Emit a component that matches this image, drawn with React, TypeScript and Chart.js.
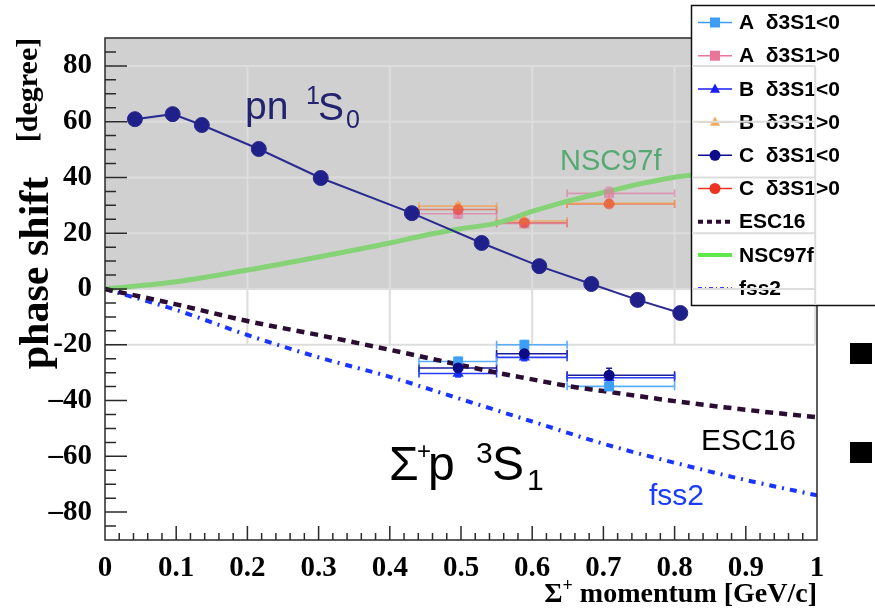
import { useEffect, useRef } from 'react';
import { Chart, registerables } from 'chart.js';

Chart.register(...registerables);

// Σ+ momentum bins (GeV/c) and the mean momentum inside each bin
const binLow = [0.441, 0.55, 0.649];
const binHigh = [0.55, 0.649, 0.8];
const binMean = [0.496, 0.589, 0.708];

// Σ+p 3S1 phase shifts (degree) for analyses A, B, C and both signs of δ3S1
const phaseANeg = [-26.0, -20.0, -34.9];
const phaseAPos = [27.0, 23.5, 34.3];
const phaseBNeg = [-30.3, -24.5, -31.8];
const phaseBPos = [29.7, 24.4, 30.7];
const phaseCNeg = [-28.3, -23.2, -30.9];
const phaseCPos = [28.5, 23.7, 30.5];

const errANeg = [1.5, 1.5, 1.5];
const errAPos = [1.5, 1.0, 2.2];
const errBNeg = [1.2, 1.2, 1.2];
const errBPos = [1.0, 1.0, 1.0];
const errCNeg = [1.5, 1.5, 2.5];
const errCPos = [1.0, 1.0, 1.0];

// pn 1S0 phase shifts
const pnMomentum = [0.042, 0.095, 0.136, 0.216, 0.303, 0.431, 0.529, 0.61, 0.683, 0.748, 0.808];
const pnPhase = [60.9, 62.7, 58.8, 50.2, 39.8, 27.2, 16.5, 8.2, 1.8, -3.9, -8.6];

// Theory curves
const escMomentum = [0, 0.1, 0.2, 0.3, 0.4, 0.5, 0.55, 0.6, 0.65, 0.7, 0.8, 0.9, 1.0];
const escPhase = [0, -5.5, -11.5, -16.5, -21.8, -27.3, -30.0, -32.4, -34.8, -36.6, -40.2, -43.3, -46.0];
const fssMomentum = [0, 0.1, 0.2, 0.3, 0.4, 0.5, 0.6, 0.7, 0.8, 0.9, 1.0];
const fssPhase = [0, -7.5, -16.5, -24.5, -31.5, -39.5, -47.5, -55.5, -62.3, -68.5, -74.0];
const nscMomentum = [0, 0.1, 0.2, 0.3, 0.4, 0.45, 0.5, 0.55, 0.6, 0.65, 0.7, 0.75, 0.8, 0.85, 0.9, 1.0];
const nscPhase = [0, 2.6, 6.8, 11.5, 16.5, 19.3, 21.6, 23.6, 27.8, 31.5, 34.6, 37.6, 40.1, 41.3, 42.5, 44.0];

// Axis ticks
const xTicks = [0, 0.1, 0.2, 0.3, 0.4, 0.5, 0.6, 0.7, 0.8, 0.9, 1];
const yTicks = [-80, -60, -40, -20, 0, 20, 40, 60, 80];
const gridX = [0.2, 0.4, 0.6, 0.8];
const gridY = [80, 60, 40, 20, 0, -20];

const SERIF = "'Liberation Serif', 'Times New Roman', serif";
const SANS = "'Liberation Sans', Arial, Helvetica, sans-serif";

type ErrPoint = { x: number; y: number; xMin: number; xMax: number; yErr: number };

function binned(phase: number[], err: number[]): ErrPoint[] {
  return binMean.map((m, i) => ({ x: m, y: phase[i], xMin: binLow[i], xMax: binHigh[i], yErr: err[i] }));
}

function xy(xs: number[], ys: number[]) {
  return xs.map((x, i) => ({ x, y: ys[i] }));
}

function measured(
  label: string,
  data: ErrPoint[],
  fill: string,
  bar: string,
  legendColor: string,
  style: string,
  radius: number,
  rank: number
) {
  return {
    label,
    data,
    showLine: false,
    pointStyle: style,
    pointRadius: radius,
    pointBackgroundColor: fill,
    pointBorderColor: fill,
    pointBorderWidth: 0,
    errorBars: true,
    barColor: bar,
    legendColor,
    legendStyle: style,
    legendRank: rank,
  };
}

function drawMarker(ctx: CanvasRenderingContext2D, style: string, x: number, y: number, r: number) {
  ctx.beginPath();
  if (style === 'rect') {
    ctx.rect(x - r, y - r, 2 * r, 2 * r);
  } else if (style === 'triangle') {
    ctx.moveTo(x, y - r * 1.1);
    ctx.lineTo(x + r, y + r * 0.75);
    ctx.lineTo(x - r, y + r * 0.75);
    ctx.closePath();
  } else {
    ctx.arc(x, y, r, 0, Math.PI * 2);
  }
  ctx.fill();
}

type Part = { t: string; x: number; y: number; size: number };

function drawParts(ctx: CanvasRenderingContext2D, parts: Part[], color: string, family: string, weight = 'normal') {
  ctx.fillStyle = color;
  ctx.textAlign = 'left';
  ctx.textBaseline = 'alphabetic';
  for (const p of parts) {
    ctx.font = `${weight} ${p.size}px ${family}`;
    ctx.fillText(p.t, p.x, p.y);
  }
}

function drawGrid(ctx: CanvasRenderingContext2D, xs: any, ys: any) {
  const xL = xs.getPixelForValue(0);
  const xR = xs.getPixelForValue(0.9975);
  const yT = ys.getPixelForValue(80);
  const yB = ys.getPixelForValue(-20);
  ctx.save();
  ctx.strokeStyle = '#dddddd';
  ctx.lineWidth = 2;
  ctx.beginPath();
  for (const v of gridY) {
    const py = ys.getPixelForValue(v);
    ctx.moveTo(xL, py);
    ctx.lineTo(xR, py);
  }
  for (const v of [...gridX, 0.9975]) {
    const px = xs.getPixelForValue(v);
    ctx.moveTo(px, yT);
    ctx.lineTo(px, yB);
  }
  ctx.stroke();
  ctx.restore();
}

const framePlugin = {
  id: 'phaseFrame',
  beforeDraw(chart: any) {
    const { ctx, chartArea } = chart;
    const ys = chart.scales.y;
    ctx.save();
    ctx.fillStyle = '#ffffff';
    ctx.fillRect(0, 0, chart.width, chart.height);
    // shaded pn region
    ctx.fillStyle = '#d0d0d0';
    const y0 = ys.getPixelForValue(0);
    ctx.fillRect(chartArea.left, chartArea.top, chartArea.right - chartArea.left, y0 - chartArea.top);
    ctx.restore();
  },
  beforeDatasetsDraw(chart: any) {
    const { ctx } = chart;
    const xs = chart.scales.x;
    const ys = chart.scales.y;
    drawGrid(ctx, xs, ys);
    // error bars
    ctx.save();
    chart.data.datasets.forEach((ds: any, i: number) => {
      if (!ds.errorBars) return;
      const meta = chart.getDatasetMeta(i);
      if (meta.hidden) return;
      ctx.strokeStyle = ds.barColor;
      ctx.lineWidth = 1.6;
      (ds.data as ErrPoint[]).forEach((p) => {
        const px = xs.getPixelForValue(p.x);
        const py = ys.getPixelForValue(p.y);
        const x1 = xs.getPixelForValue(p.xMin);
        const x2 = xs.getPixelForValue(p.xMax);
        const yTop = ys.getPixelForValue(p.y + p.yErr);
        const yBot = ys.getPixelForValue(p.y - p.yErr);
        ctx.beginPath();
        ctx.moveTo(x1, py);
        ctx.lineTo(x2, py);
        ctx.moveTo(x1, py - 4);
        ctx.lineTo(x1, py + 4);
        ctx.moveTo(x2, py - 4);
        ctx.lineTo(x2, py + 4);
        ctx.moveTo(px, yTop);
        ctx.lineTo(px, yBot);
        ctx.moveTo(px - 3, yTop);
        ctx.lineTo(px + 3, yTop);
        ctx.moveTo(px - 3, yBot);
        ctx.lineTo(px + 3, yBot);
        ctx.stroke();
      });
    });
    ctx.restore();
  },
  afterDraw(chart: any) {
    const { ctx, chartArea } = chart;
    const xs = chart.scales.x;
    const ys = chart.scales.y;
    const { left, right, top, bottom } = chartArea;
    ctx.save();

    // frame and inward ticks
    ctx.strokeStyle = '#2a2a2a';
    ctx.lineWidth = 1.5;
    ctx.strokeRect(left, top, right - left, bottom - top);
    ctx.beginPath();
    for (let k = -17; k <= 17; k++) {
      const v = k * 5;
      const py = ys.getPixelForValue(v);
      const len = v % 20 === 0 ? 22 : 11;
      ctx.moveTo(left, py);
      ctx.lineTo(left + len, py);
    }
    for (let k = 1; k < 50; k++) {
      const px = xs.getPixelForValue(k / 50);
      const len = k % 5 === 0 ? 14 : 7;
      ctx.moveTo(px, bottom);
      ctx.lineTo(px, bottom - len);
    }
    ctx.stroke();

    // axis titles
    ctx.fillStyle = '#000';
    ctx.textBaseline = 'alphabetic';
    ctx.textAlign = 'center';
    ctx.save();
    ctx.translate(48, 273);
    ctx.rotate(-Math.PI / 2);
    ctx.font = `bold 42px ${SERIF}`;
    ctx.fillText('phase shift', 0, 0);
    ctx.restore();
    ctx.save();
    ctx.translate(37, 90);
    ctx.rotate(-Math.PI / 2);
    ctx.font = `bold 30px ${SERIF}`;
    ctx.fillText('[degree]', 0, 0);
    ctx.restore();

    // x title, right aligned to the frame
    ctx.textAlign = 'left';
    ctx.font = `bold 28px ${SERIF}`;
    const wSigma = ctx.measureText('Σ').width;
    const rest = ' momentum [GeV/c]';
    const wRest = ctx.measureText(rest).width;
    ctx.font = `bold 18px ${SERIF}`;
    const wPlus = ctx.measureText('+').width;
    let tx = right - (wSigma + wPlus + wRest);
    ctx.font = `bold 28px ${SERIF}`;
    ctx.fillText('Σ', tx, 602);
    tx += wSigma;
    ctx.font = `bold 18px ${SERIF}`;
    ctx.fillText('+', tx, 591);
    tx += wPlus;
    ctx.font = `bold 28px ${SERIF}`;
    ctx.fillText(rest, tx, 602);

    // annotations
    drawParts(
      ctx,
      [
        { t: 'pn', x: 245, y: 119, size: 39 },
        { t: '1', x: 306, y: 104, size: 25 },
        { t: 'S', x: 318, y: 120, size: 39 },
        { t: '0', x: 346, y: 128, size: 25 },
      ],
      '#22226e',
      SANS
    );
    drawParts(
      ctx,
      [
        { t: 'Σ', x: 389, y: 480, size: 48 },
        { t: '+', x: 417, y: 459, size: 24 },
        { t: 'p', x: 428, y: 480, size: 48 },
        { t: '3', x: 476, y: 463, size: 30 },
        { t: 'S', x: 492, y: 480, size: 48 },
        { t: '1', x: 527, y: 490, size: 30 },
      ],
      '#000000',
      SANS
    );
    drawParts(ctx, [{ t: 'NSC97f', x: 560, y: 170, size: 29 }], '#55aa73', SANS);
    drawParts(ctx, [{ t: 'ESC16', x: 701, y: 450, size: 30 }], '#000000', SANS);
    drawParts(ctx, [{ t: 'fss2', x: 649, y: 505, size: 30 }], '#1a3cff', SANS);

    // legend
    const L = { x: 691, y: 5, w: 200, h: 301, row0: 22.5, step: 33.2 };
    ctx.fillStyle = '#ffffff';
    ctx.fillRect(L.x, L.y, L.w, L.h);
    ctx.strokeStyle = '#111';
    ctx.lineWidth = 1.5;
    ctx.strokeRect(L.x + 0.5, L.y + 0.5, L.w, L.h - 1);
    const entries = chart.data.datasets
      .filter((d: any) => d.legendRank !== undefined)
      .sort((a: any, b: any) => a.legendRank - b.legendRank);
    entries.forEach((d: any, i: number) => {
      const ry = L.y + L.row0 - 5 + i * L.step;
      ctx.save();
      ctx.strokeStyle = d.legendColor;
      ctx.lineWidth = d.legendWidth || 1.5;
      ctx.setLineDash(d.legendDash || []);
      ctx.beginPath();
      ctx.moveTo(698, ry);
      ctx.lineTo(732, ry);
      ctx.stroke();
      ctx.restore();
      if (d.legendStyle) {
        ctx.fillStyle = d.legendColor;
        drawMarker(ctx, d.legendStyle, 715, ry, d.legendStyle === 'circle' ? 5.5 : 5);
      }
      ctx.fillStyle = '#000';
      ctx.font = `bold 21px ${SANS}`;
      ctx.textAlign = 'left';
      ctx.textBaseline = 'middle';
      ctx.fillText(d.label, 739, ry + 1);
    });
    // pn grid shows through the legend box
    ctx.save();
    ctx.beginPath();
    ctx.rect(L.x + 1, L.y + 1, L.w, L.h - 2);
    ctx.clip();
    drawGrid(ctx, xs, ys);
    ctx.restore();

    // bullets
    ctx.fillStyle = '#000';
    ctx.fillRect(850, 343, 22, 21);
    ctx.fillRect(850, 442, 22, 21);
    ctx.restore();
  },
};

export default function App() {
  const ref = useRef<HTMLCanvasElement | null>(null);

  useEffect(() => {
    if (!ref.current) return;
    const datasets: any[] = [
      measured('C  δ3S1<0', binned(phaseCNeg, errCNeg), '#0c0c86', '#1c1c9a', '#0c0c8c', 'circle', 5.5, 4),
      measured('C  δ3S1>0', binned(phaseCPos, errCPos), 'rgba(232,60,40,0.55)', 'rgba(232,70,40,0.6)', '#ee3322', 'circle', 5.5, 5),
      measured('B  δ3S1<0', binned(phaseBNeg, errBNeg), '#1530ff', '#2a3cff', '#1b1bff', 'triangle', 6.5, 2),
      measured('B  δ3S1>0', binned(phaseBPos, errBPos), 'rgba(246,160,80,0.75)', 'rgba(240,160,80,0.75)', '#f6a95e', 'triangle', 6.5, 3),
      measured('A  δ3S1<0', binned(phaseANeg, errANeg), '#3d9ff5', '#5aaef8', '#3b9df5', 'rect', 7, 0),
      measured('A  δ3S1>0', binned(phaseAPos, errAPos), 'rgba(225,120,160,0.65)', 'rgba(225,120,160,0.65)', '#ea7598', 'rect', 7, 1),
      {
        label: 'pn 1S0',
        data: xy(pnMomentum, pnPhase),
        showLine: true,
        borderColor: '#2a2a90',
        borderWidth: 2,
        pointRadius: 7.5,
        pointBackgroundColor: '#20208a',
        pointBorderColor: '#2a2a8e',
        pointBorderWidth: 1,
      },
      {
        label: 'ESC16',
        data: xy(escMomentum, escPhase),
        showLine: true,
        pointRadius: 0,
        borderColor: '#2b0d33',
        borderWidth: 4.5,
        borderDash: [8, 6],
        cubicInterpolationMode: 'monotone',
        legendColor: '#2b0d33',
        legendWidth: 4,
        legendDash: [5, 4],
        legendRank: 6,
      },
      {
        label: 'fss2',
        data: xy(fssMomentum, fssPhase),
        showLine: true,
        pointRadius: 0,
        borderColor: '#1a35ff',
        borderWidth: 4,
        borderDash: [7, 6, 2, 6],
        cubicInterpolationMode: 'monotone',
        legendColor: '#3c3cff',
        legendWidth: 2,
        legendDash: [4, 3, 1, 3],
        legendRank: 8,
      },
      {
        label: 'NSC97f',
        data: xy(nscMomentum, nscPhase),
        showLine: true,
        pointRadius: 0,
        borderColor: '#86d277',
        borderWidth: 5,
        cubicInterpolationMode: 'monotone',
        legendColor: '#5ee84a',
        legendWidth: 4,
        legendRank: 7,
      },
    ];

    const tickFont = { family: SERIF, size: 29, weight: 'bold' };

    const chart = new Chart(ref.current, {
      type: 'scatter',
      data: { datasets },
      plugins: [framePlugin],
      options: {
        responsive: false,
        animation: false,
        devicePixelRatio: 1,
        layout: { padding: { top: 38, right: 58, left: 0, bottom: 0 } },
        plugins: { legend: { display: false }, tooltip: { enabled: false } },
        scales: {
          x: {
            type: 'linear',
            min: 0,
            max: 1,
            grid: { display: false },
            border: { display: false },
            afterBuildTicks: (s: any) => {
              s.ticks = xTicks.map((v) => ({ value: v }));
            },
            afterFit: (s: any) => {
              s.height = 68;
            },
            ticks: {
              autoSkip: false,
              maxRotation: 0,
              padding: 3,
              color: '#000',
              font: tickFont,
              callback: (v: any) => (v === 0 ? '0' : v === 1 ? '1' : Number(v).toFixed(1)),
            },
          },
          y: {
            type: 'linear',
            min: -90,
            max: 90,
            grid: { display: false },
            border: { display: false },
            afterBuildTicks: (s: any) => {
              s.ticks = yTicks.map((v) => ({ value: v }));
            },
            afterFit: (s: any) => {
              s.width = 105;
            },
            ticks: {
              autoSkip: false,
              padding: 5,
              color: '#000',
              font: tickFont,
              callback: (v: any) => (v === -20 ? '-20' : v < 0 ? '\u2013' + Math.abs(v) : String(v)),
            },
          },
        },
      } as any,
    });
    return () => chart.destroy();
  }, []);

  return (
    <div style={{ position: 'fixed', left: 0, top: 0, width: 875, height: 608, background: '#fff' }}>
      <canvas ref={ref} width={875} height={608} style={{ display: 'block' }} />
    </div>
  );
}
